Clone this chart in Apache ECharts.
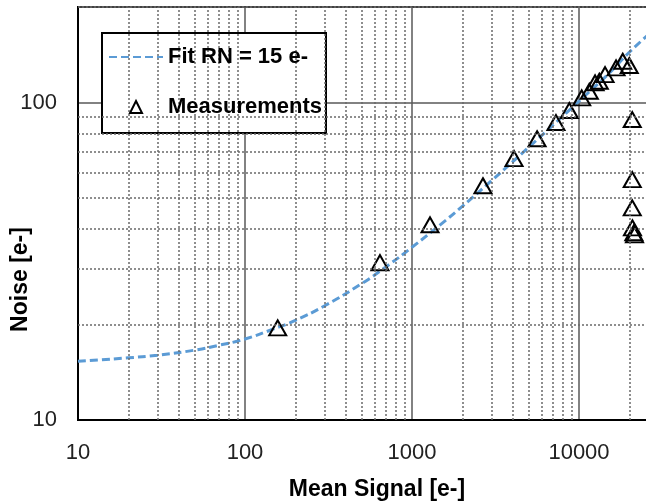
<!DOCTYPE html>
<html>
<head>
<meta charset="utf-8">
<script src="https://cdn.jsdelivr.net/npm/echarts@6/dist/echarts.min.js"></script>
<style>
html,body{margin:0;padding:0;background:#fff;}
#chart{width:646px;height:504px;}
</style>
</head>
<body>
<div id="chart"></div>
<script>
// Measurements (Mean Signal [e-], Noise [e-])
const measSignal = [157, 643, 1282, 2660, 4083, 5610, 7280, 8750, 10380, 11530, 12480, 13230, 14320, 16670, 18270, 20000, 20840, 20840, 20840, 20900, 21300, 21500];
const measNoise  = [19.5, 31.3, 41.2, 54.7, 66.6, 76.9, 86.5, 94.4, 103.5, 108.5, 115.4, 116.7, 122.5, 128.6, 134.9, 130.8, 88.4, 57.2, 46.6, 40.3, 38.9, 38.3];

// Fit curve
const fitSignal = [10, 20, 30, 50, 70, 100, 150, 200, 300, 500, 700, 1000, 1500, 2000, 3000, 5000, 7000, 10000, 15000, 20000, 30000];
const fitNoise  = [15.3, 15.7, 16.0, 16.6, 17.2, 18.0, 19.4, 20.6, 22.9, 26.9, 30.4, 35.0, 41.5, 47.1, 56.8, 72.3, 85.0, 101, 123, 144, 175];

// Minor gridline positions
const xMinor = [20,30,40,50,60,70,80,90,200,300,400,500,600,700,800,900,2000,3000,4000,5000,6000,7000,8000,9000,20000,30000,40000,50000,60000,70000,80000,90000];
const yMinor = [20,30,40,50,60,70,80,90,200];

const seriesNames = ['Fit RN = 15 e-', 'Measurements'];
const FONT = 'Liberation Sans, Arial, sans-serif';
const legendText = {fontFamily: FONT, fontSize: 22, fontWeight: 'bold', color: '#000'};

const chart = echarts.init(document.getElementById('chart'), null, {renderer: 'canvas'});
chart.setOption({
  animation: false,
  backgroundColor: '#fff',
  textStyle: {fontFamily: FONT},
  grid: {left: 78, top: 7, width: 668, height: 413, containLabel: false, outerBoundsMode: 'none',
         show: true, borderColor: '#000', borderWidth: 2, backgroundColor: 'transparent'},
  graphic: [{
    type: 'rect', z: 5, silent: true,
    shape: {x: 102, y: 33, width: 224, height: 100},
    style: {fill: '#fff', stroke: '#000', lineWidth: 2}
  }],
  legend: [{
    data: [{name: seriesNames[0], itemStyle: {opacity: 0}}],
    left: 108, top: 46, padding: 0, z: 8,
    itemWidth: 54, itemHeight: 14,
    textStyle: legendText
  }, {
    data: [seriesNames[1]],
    left: 129, top: 96, padding: 0, z: 8,
    itemWidth: 12, itemHeight: 12,
    textStyle: Object.assign({padding: [0, 0, 0, 21]}, legendText)
  }],
  xAxis: {
    type: 'log', logBase: 10, min: 10, max: 100000,
    name: 'Mean Signal [e-]', nameLocation: 'middle', nameGap: 58, nameMoveOverlap: false,
    nameTextStyle: {fontFamily: FONT, fontSize: 23, fontWeight: 'bold', color: '#000', padding: [0, 70, 0, 0]},
    axisLine: {show: true, lineStyle: {color: '#000', width: 2}},
    axisTick: {show: false},
    axisLabel: {fontFamily: FONT, fontSize: 22, color: '#222', margin: 22, formatter: v => String(Math.round(v))},
    splitLine: {show: true, lineStyle: {color: '#595959', width: 1.5, type: 'solid'}}
  },
  yAxis: {
    type: 'log', logBase: 10, min: 10, max: 200,
    name: 'Noise [e-]', nameLocation: 'middle', nameRotate: 90, nameGap: 46, nameMoveOverlap: false,
    nameTextStyle: {fontFamily: FONT, fontSize: 23, fontWeight: 'bold', color: '#000', padding: [0, 132, 0, 0]},
    axisLine: {show: true, lineStyle: {color: '#000', width: 2}},
    axisTick: {show: false},
    axisLabel: {fontFamily: FONT, fontSize: 22, color: '#222', margin: 21, showMaxLabel: false, formatter: v => String(Math.round(v))},
    splitLine: {show: true, lineStyle: {color: '#595959', width: 1.5, type: 'solid'}}
  },
  series: [
    {
      name: 'minor-grid',
      type: 'line',
      data: [],
      silent: true,
      z: 1,
      markLine: {
        silent: true,
        symbol: 'none',
        label: {show: false},
        animation: false,
        lineStyle: {color: '#6a6a6a', width: 1.5, type: [2, 2]},
        emphasis: {disabled: true},
        data: xMinor.map(v => ({xAxis: v})).concat(yMinor.map(v => ({yAxis: v})))
      }
    },
    {
      name: seriesNames[0],
      type: 'line',
      data: fitSignal.map((x, i) => [x, fitNoise[i]]),
      smooth: true,
      symbol: 'none',
      z: 2,
      lineStyle: {color: '#5B9BD5', width: 3, type: [8, 4]},
      itemStyle: {color: '#5B9BD5'}
    },
    {
      name: seriesNames[1],
      type: 'scatter',
      data: measSignal.map((x, i) => [x, measNoise[i]]),
      symbol: 'triangle',
      symbolSize: [17, 15],
      z: 3,
      itemStyle: {color: 'rgba(255,255,255,0)', borderColor: '#000', borderWidth: 2, opacity: 1}
    }
  ]
});
</script>
</body>
</html>
